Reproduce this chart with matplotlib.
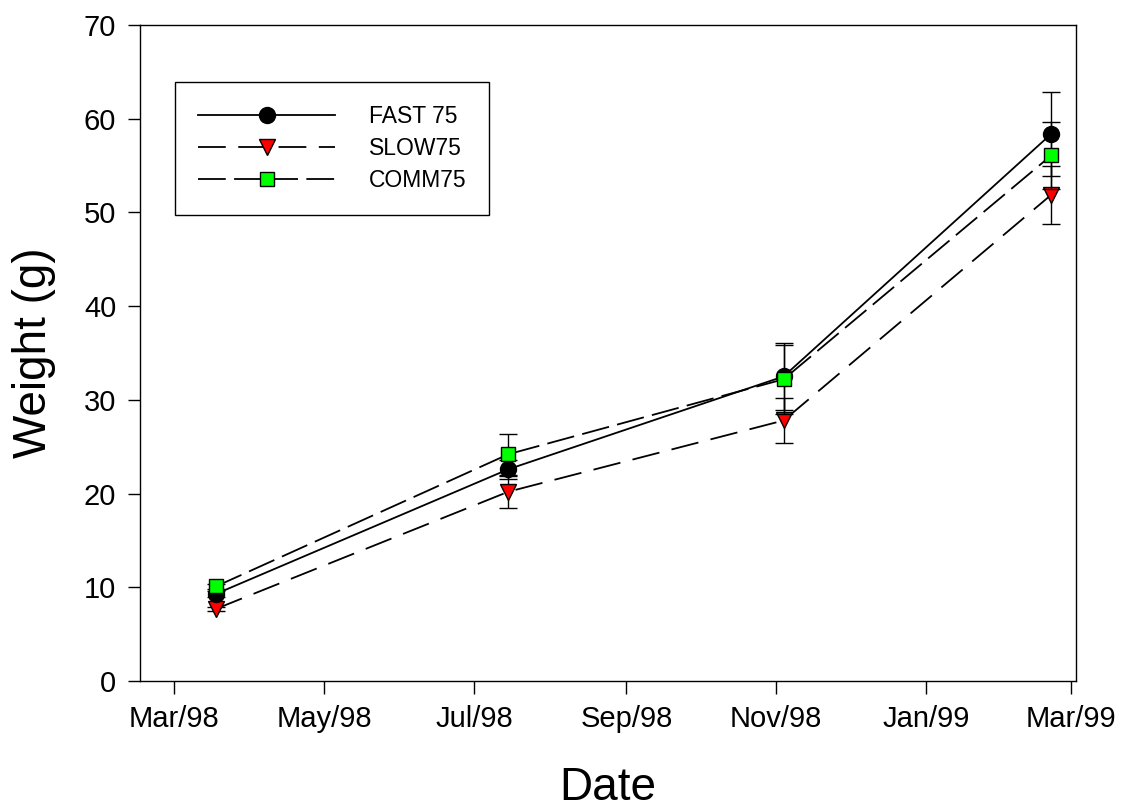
import datetime as dt
import matplotlib
matplotlib.use('Agg')
import matplotlib.pyplot as plt
import matplotlib.dates as mdates

plt.rcParams['font.family'] = ['Liberation Sans', 'DejaVu Sans']
plt.rcParams['lines.scale_dashes'] = False

# sampling dates and mean weights (g) with error bars
dates = [dt.date(1998, 3, 18), dt.date(1998, 7, 15),
         dt.date(1998, 11, 4), dt.date(1999, 2, 21)]

fast75 = [9.3, 22.6, 32.5, 58.4]
fast75_err = [0.3, 1.0, 3.6, 4.5]

slow75 = [7.7, 20.2, 27.8, 51.9]
slow75_err = [0.2, 1.7, 2.4, 3.1]

comm75 = [10.1, 24.2, 32.2, 56.1]
comm75_err = [0.3, 2.2, 3.7, 3.6]

fig = plt.figure(figsize=(11.26, 8.10), dpi=100)
ax = fig.add_axes([0.1243, 0.1593, 0.8313, 0.8098])

series = [
    ('SLOW75', slow75, slow75_err, (0, (20, 9)), 'v', 'red', 11.5),
    ('FAST 75', fast75, fast75_err, '-', 'o', 'black', 11.5),
    ('COMM75', comm75, comm75_err, (0, (20, 6)), 's', '#00ff00', 10),
]
handles = {}
for i, (name, y, err, ls, mk, col, ms) in enumerate(series):
    z = 3 + i
    ax.errorbar(dates, y, yerr=err, fmt='none', ecolor='black',
                elinewidth=1, capsize=6.5, capthick=1, zorder=z)
    ln, = ax.plot(dates, y, linestyle=ls, color='black', linewidth=1.3,
                  marker=mk, markersize=ms, markerfacecolor=col,
                  markeredgecolor='black', markeredgewidth=1,
                  label=name, zorder=z + 0.5)
    handles[name] = ln

ax.set_xlim(dt.date(1998, 2, 15), dt.date(1999, 3, 3))
ax.set_ylim(0, 70)
ax.set_yticks(range(0, 71, 10))
ax.xaxis.set_major_locator(mdates.MonthLocator(bymonth=[1, 3, 5, 7, 9, 11]))
ax.xaxis.set_major_formatter(mdates.DateFormatter('%b/%y'))

ax.tick_params(axis='both', direction='out', length=9, width=1,
               labelsize=21, pad=8, top=False, right=False)
for sp in ax.spines.values():
    sp.set_linewidth(1)

ax.set_xlabel('Date', fontsize=33, labelpad=24)
ax.set_ylabel('Weight (g)', fontsize=33, labelpad=20)

leg = ax.legend([handles['FAST 75'], handles['SLOW75'], handles['COMM75']],
                ['FAST 75', 'SLOW75', 'COMM75'],
                loc='upper left', bbox_to_anchor=(0.0374, 0.913),
                borderaxespad=0, fontsize=16.5, handlelength=6.0,
                handletextpad=1.45, labelspacing=0.4, borderpad=1.0,
                fancybox=False, framealpha=1, edgecolor='black')
leg.get_frame().set_linewidth(1)

fig.savefig('out.png', dpi=100)
